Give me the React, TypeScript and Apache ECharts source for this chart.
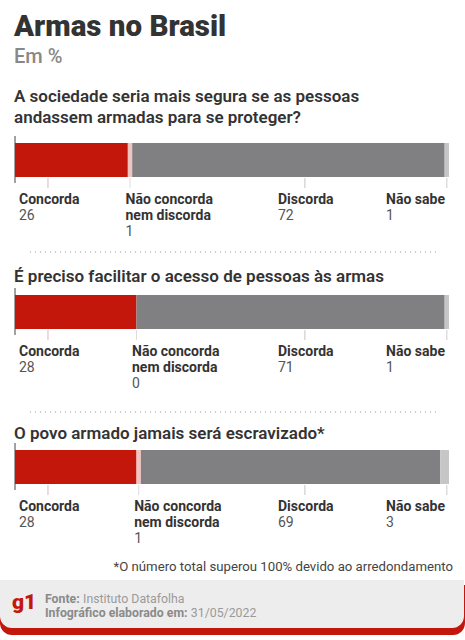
import React, { useEffect, useRef } from "react";
import * as echarts from "echarts";

const title = "Armas no Brasil";
const subtitle = "Em %";
const questions = [
  ["A sociedade seria mais segura se as pessoas", "andassem armadas para se proteger?"],
  ["É preciso facilitar o acesso de pessoas às armas"],
  ["O povo armado jamais será escravizado*"],
];
const categories = ["Concorda", "Não concorda\nnem discorda", "Discorda", "Não sabe"];
const concorda = [26, 28, 28];
const nemNem = [1, 0, 1];
const discorda = [72, 71, 69];
const naoSabe = [1, 1, 3];
const footnote = "*O número total superou 100% devido ao arredondamento";
const source = "Instituto Datafolha";
const madeOn = "31/05/2022";

const FONT = 'Roboto, "Noto Sans", sans-serif';
const colors = ["#c4170c", "#f3c3c0", "#807f81", "#c6c6c6"];
const barTops = [143, 295, 450];
const questionY = [[96, 117], [276], [433]];
const BAR_H = 34;

const font = (w: number, s: number) => `${w} ${s}px ${FONT}`;

function txt(x: number, y: number, text: string, fill: string, w: number, s: number, align = "left") {
  return {
    type: "text",
    x,
    y,
    style: { text, fill, font: font(w, s), textAlign: align, textVerticalAlign: "middle" },
  };
}

export default function App() {
  const ref = useRef<HTMLDivElement>(null);
  useEffect(() => {
    const chart = echarts.init(ref.current!, null, { renderer: "svg" });
    const grids = barTops.map((t) => ({ left: 15, top: t, width: 434, height: BAR_H }));
    const xAxis = barTops.map((_, i) => ({ gridIndex: i, type: "value", min: 0, max: 100, show: false }));
    const yAxis = barTops.map((_, i) => ({ gridIndex: i, type: "category", data: ["q"], show: false }));
    const seriesVals = [concorda, nemNem, discorda, naoSabe];
    const series: any[] = [];
    barTops.forEach((_, i) => {
      seriesVals.forEach((vals, k) => {
        series.push({
          type: "bar",
          name: categories[k],
          xAxisIndex: i,
          yAxisIndex: i,
          stack: "s" + i,
          barWidth: BAR_H,
          data: [vals[i]],
          itemStyle: { color: colors[k] },
          silent: true,
        });
      });
      series.push({
        type: "custom",
        xAxisIndex: i,
        yAxisIndex: i,
        data: [[0, 0]],
        silent: true,
        renderItem: (params: any, api: any) => {
          const c = concorda[i], n = nemNem[i], d = discorda[i], s = naoSabe[i];
          const total = c + n + d + s;
          const p0 = api.coord([0, 0]);
          const x0 = p0[0];
          const top = p0[1] - BAR_H / 2;
          const bottom = p0[1] + BAR_H / 2;
          const X = (v: number) => api.coord([v, 0])[0];
          const ticks = [X(7.6), X(c + n / 2), X(66.8), X(total - s / 2)];
          const tickColors = ["#d7b9b9", "#dddddd", "#c4c4c4", "#cccccc"];
          const children: any[] = [
            { type: "line", shape: { x1: x0, y1: top - 7, x2: x0, y2: bottom + 6 }, style: { stroke: "#444", lineWidth: 1 } },
          ];
          ticks.forEach((tx, k) => {
            children.push({
              type: "line",
              shape: { x1: tx, y1: bottom + 1, x2: tx, y2: bottom + 11 },
              style: { stroke: tickColors[k], lineWidth: 1 },
            });
          });
          const ly = bottom + 21.5;
          const LH = 16.4;
          const labelX = [x0 + 4, ticks[1] - 4.5, X(60.6), X(85.5)];
          const vals = [c, n, d, s];
          categories.forEach((cat, k) => {
            const lines = cat.split("\n");
            lines.forEach((ln, j) => children.push(txt(labelX[k], ly + j * LH, ln, "#333", 700, 14)));
            children.push(txt(labelX[k], ly + lines.length * LH, String(vals[k]), "#555", 400, 14));
          });
          return { type: "group", children };
        },
      });
    });

    const graphic: any[] = [
      txt(14, 26, title, "#333", 900, 29.5),
      txt(14, 56, subtitle, "#888", 500, 20),
      { type: "line", shape: { x1: 30, y1: 252, x2: 440, y2: 252 }, style: { stroke: "#999", lineWidth: 1, lineDash: [1, 4] } },
      { type: "line", shape: { x1: 30, y1: 412, x2: 440, y2: 412 }, style: { stroke: "#999", lineWidth: 1, lineDash: [1, 4] } },
      txt(453, 566, footnote, "#444", 400, 13.2, "right"),
      { type: "rect", shape: { x: 0, y: 585, width: 465, height: 50, r: [0, 0, 12, 12] }, style: { fill: "#c4170c" } },
      { type: "rect", shape: { x: 0, y: 580, width: 464, height: 48, r: [0, 0, 12, 12] }, style: { fill: "#ededed" } },
      txt(12, 602, "g1", "#c4170c", 900, 21),
      {
        type: "text",
        x: 45,
        y: 598.5,
        style: {
          text: "{b|Fonte:} {l|" + source + "}",
          textVerticalAlign: "middle",
          rich: {
            b: { font: font(700, 12.3), fill: "#8a8a8a" },
            l: { font: font(400, 12.3), fill: "#9a9a9a" },
          },
        },
      },
      {
        type: "text",
        x: 45,
        y: 613,
        style: {
          text: "{b|Infográfico elaborado em:} {l|" + madeOn + "}",
          textVerticalAlign: "middle",
          rich: {
            b: { font: font(700, 12.3), fill: "#8a8a8a" },
            l: { font: font(400, 12.3), fill: "#9a9a9a" },
          },
        },
      },
    ];
    questions.forEach((lines, i) => {
      lines.forEach((ln, j) => graphic.push(txt(14, questionY[i][j], ln, "#333", 600, 17)));
    });

    chart.setOption({
      animation: false,
      backgroundColor: "#fff",
      grid: grids,
      xAxis,
      yAxis,
      series,
      graphic,
    });
    return () => chart.dispose();
  }, []);
  return <div ref={ref} style={{ position: "absolute", left: 0, top: 0, width: 465, height: 640 }} />;
}
